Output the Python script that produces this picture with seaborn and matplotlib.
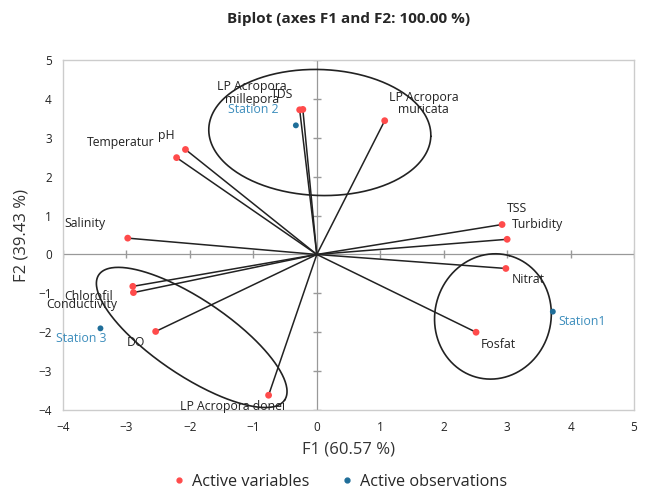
import numpy as np
import pandas as pd
import matplotlib
matplotlib.use("Agg")
import matplotlib.pyplot as plt
import seaborn as sns
from matplotlib.lines import Line2D

# ---- data ----
var_names = ["LP Acropora\nmillepora", "TDS", "pH", "Temperatur", "Salinity",
             "LP Acropora\nmuricata", "TSS", "Turbidity", "Nitrat", "Fosfat",
             "Chlorofil", "Conductivity", "DO", "LP Acropora donei"]
var_f1 = [-0.27, -0.22, -2.07, -2.21, -2.98, 1.07, 2.92, 3.00, 2.98, 2.51, -2.90, -2.89, -2.54, -0.76]
var_f2 = [3.72, 3.73, 2.70, 2.49, 0.42, 3.44, 0.77, 0.39, -0.36, -2.00, -0.82, -0.98, -1.98, -3.62]

obs_names = ["Station1", "Station 2", "Station 3"]
obs_f1 = [3.72, -0.33, -3.41]
obs_f2 = [-1.47, 3.32, -1.90]

x_ticks = [-4, -3, -2, -1, 0, 1, 2, 3, 4, 5]
y_ticks = [-4, -3, -2, -1, 0, 1, 2, 3, 4, 5]

# label offsets (pixels)
var_offsets = [(-48, 17), (-21, 15), (-19, 14), (-56, 15), (-43, 15),
               (39, 17), (15, 16), (30, 15), (22, -11), (22, -12),
               (-44, -10), (-52, -12), (-20, -11), (-36, -11)]
obs_offsets = [(29, -10), (-43, 16), (-19, -10)]

var_df = pd.DataFrame({"F1": var_f1, "F2": var_f2, "name": var_names})
obs_df = pd.DataFrame({"F1": obs_f1, "F2": obs_f2, "name": obs_names})

sns.set_style("white")
plt.rcParams["font.family"] = ["Open Sans", "DejaVu Sans"]

RED = "#FF4B4B"
BLUE = "#1F6E99"
LBLUE = "#3C8DBC"

fig = plt.figure(figsize=(6.45, 4.94), dpi=100)
ax = fig.add_axes([0.0977, 0.170, 0.8853, 0.7085])
ax.set_xlim(-4, 5)
ax.set_ylim(-4, 5)

# zero lines
ax.axhline(0, color="#999999", lw=0.9, zorder=1)
ax.axvline(0, color="#999999", lw=0.9, zorder=1)
ax.plot([0] * len(y_ticks), y_ticks, marker="_", ms=6, color="#999999", ls="none", zorder=1)
ax.plot(x_ticks, [0] * len(x_ticks), marker="|", ms=6, color="#999999", ls="none", zorder=1)

# vectors
for x, y in zip(var_f1, var_f2):
    ax.plot([0, x], [0, y], color="#222222", lw=1.1, zorder=2)

sns.scatterplot(data=var_df, x="F1", y="F2", color=RED, s=24, edgecolor="none", ax=ax, zorder=4, legend=False)
sns.scatterplot(data=obs_df, x="F1", y="F2", color=BLUE, s=18, edgecolor="none", ax=ax, zorder=4, legend=False)

for (x, y, n), (dx, dy) in zip(zip(var_f1, var_f2, var_names), var_offsets):
    ax.annotate(n, (x, y), xytext=(dx, dy), textcoords="offset pixels",
                ha="center", va="center", fontsize=8.8, color="#222222",
                linespacing=0.95, zorder=5)
for (x, y, n), (dx, dy) in zip(zip(obs_f1, obs_f2, obs_names), obs_offsets):
    ax.annotate(n, (x, y), xytext=(dx, dy), textcoords="offset pixels",
                ha="center", va="center", fontsize=8.8, color=LBLUE, zorder=5)

# ellipses drawn in pixel-like space and converted to data
sx = 63.4
sy = 38.9
def ellipse(cx_px, cy_px, a, b, ang_deg):
    t = np.linspace(0, 2 * np.pi, 300)
    ang = np.deg2rad(ang_deg)
    px = a * np.cos(t) * np.cos(ang) - b * np.sin(t) * np.sin(ang)
    py = a * np.cos(t) * np.sin(ang) + b * np.sin(t) * np.cos(ang)
    X = (cx_px + px - 317) / sx
    Y = (255 - (cy_px + py)) / sy
    ax.plot(X, Y, color="#222222", lw=1.2, zorder=3)

ellipse(320, 133, 111, 63, 2)
ellipse(192, 338, 112, 38, 34)
ellipse(493, 317, 63, 58, -75)

ax.set_xticks(x_ticks)
ax.set_yticks(y_ticks)
ax.tick_params(labelsize=8.5, colors="#222222", length=0, pad=8)
for s in ax.spines.values():
    s.set_color("#CCCCCC")
    s.set_linewidth(1)

ax.set_xlabel("F1 (60.57 %)", fontsize=12, color="#333333", labelpad=5)
ax.set_ylabel("F2 (39.43 %)", fontsize=12, color="#333333", labelpad=6)
fig.suptitle("Biplot (axes F1 and F2: 100.00 %)", fontsize=11, fontweight="bold", y=0.975, x=0.54)

handles = [Line2D([], [], marker="o", color=RED, ls="none", ms=3.5),
           Line2D([], [], marker="o", color=BLUE, ls="none", ms=3.5)]
fig.legend(handles, ["Active variables", "Active observations"], loc="center",
           bbox_to_anchor=(0.526, 0.025), ncol=2, frameon=False, fontsize=11.7,
           handletextpad=0.3, columnspacing=1.8, handlelength=1)

fig.savefig("out.png", dpi=100)
